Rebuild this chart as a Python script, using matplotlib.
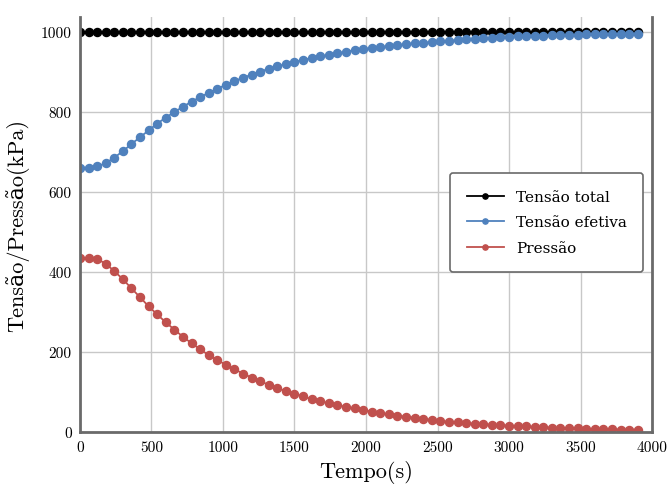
import matplotlib
matplotlib.use("Agg")
import matplotlib.pyplot as plt
import numpy as np

# ---------------- data ----------------
tempo = list(range(0, 3960, 60))

tensao_total = [1000] * len(tempo)

tensao_efetiva = [661, 661, 664, 672, 686, 702, 720, 737, 754, 771,
                  786, 800, 813, 826, 837, 848, 858, 868, 877, 886,
                  893, 901, 908, 914, 920, 925, 930, 935, 939, 943,
                  947, 951, 954, 957, 960, 962, 965, 967, 970, 972,
                  973, 975, 977, 978, 980, 982, 982, 984, 985, 987,
                  988, 989, 990, 990, 991, 992, 992, 993, 993, 994,
                  994, 995, 995, 995, 996, 996]

pressao = [435, 435, 432, 421, 402, 382, 359, 337, 314, 294,
           274, 256, 238, 222, 207, 192, 180, 168, 157, 146,
           136, 127, 118, 110, 102, 96, 89, 82, 77, 72,
           67, 63, 59, 55, 51, 48, 44, 41, 38, 36,
           33, 30, 27, 26, 24, 22, 21, 20, 18, 17,
           16, 15, 14, 13, 12, 11, 10, 10, 9, 8,
           8, 7, 7, 6, 6, 6]

series_names = ["Tensão total", "Tensão efetiva", "Pressão"]
cores = ["#000000", "#4F81BD", "#C0504D"]

# ---------------- plot ----------------
serif = ["cmr10", "DejaVu Serif"]

fig = plt.figure(figsize=(6.71, 4.85), dpi=100)
ax = fig.add_axes([0.1192, 0.1072, 0.8525, 0.8557])

for y, nome, cor in zip([tensao_total, tensao_efetiva, pressao], series_names, cores):
    ax.plot(tempo, y, color=cor, marker="o", markersize=5.8, linewidth=1.3,
            label=nome)

ax.set_xlim(0, 4000)
ax.set_ylim(0, 1037.5)
ax.set_xticks(np.arange(0, 4001, 500))
ax.set_yticks(np.arange(0, 1001, 200))
ax.grid(True, color="#c8c8c8", linewidth=1)
ax.set_axisbelow(True)
ax.tick_params(length=0, labelsize=11, pad=6)
for lab in ax.get_xticklabels() + ax.get_yticklabels():
    lab.set_family(serif)

for s in ["left", "bottom", "right"]:
    ax.spines[s].set_color("#6a6a6a")
    ax.spines[s].set_linewidth(2)
ax.spines["top"].set_visible(False)

ax.set_xlabel("Tempo(s)", fontsize=16, family=serif, labelpad=4)
ax.set_ylabel("Tensão/Pressão(kPa)", fontsize=16, family=serif, labelpad=8)

leg = ax.legend(loc="center right", bbox_to_anchor=(0.985, 0.505),
                prop={"family": ["DejaVu Serif"], "size": 11},
                markerscale=0.65, fancybox=True, framealpha=1,
                edgecolor="#6a6a6a", borderpad=1.1, handlelength=2.4,
                labelspacing=0.75, borderaxespad=0)
leg.get_frame().set_linewidth(1.2)

fig.savefig("out.png", dpi=100)
